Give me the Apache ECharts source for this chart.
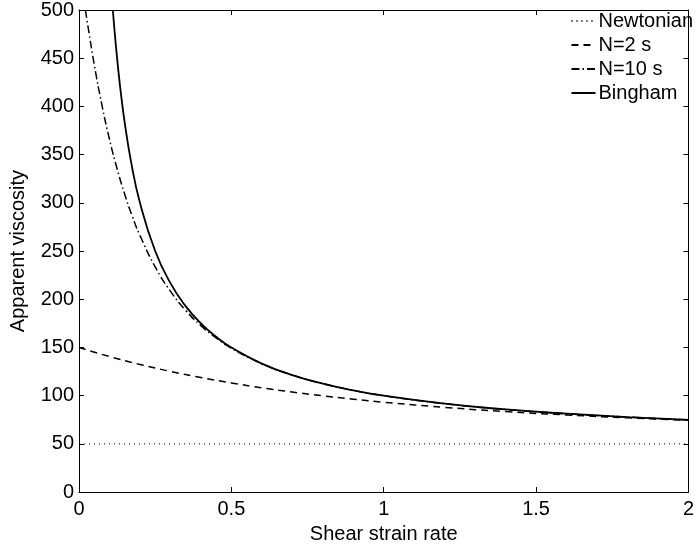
<!DOCTYPE html>
<html>
<head>
<meta charset="utf-8">
<script src="https://cdn.jsdelivr.net/npm/echarts@6/dist/echarts.min.js"></script>
<style>
html,body{margin:0;padding:0;background:#fff;}
#chart{width:697px;height:549px;}
</style>
</head>
<body>
<div id="chart"></div>
<script>
// Shear strain rate (x) and apparent viscosity (y)
const newtonianX = [0, 2];
const newtonianY = [50, 50];

const n2X = [0, 0.1, 0.2, 0.3, 0.4, 0.5, 0.6, 0.7, 0.8, 0.9, 1.0, 1.2, 1.4, 1.6, 1.8, 2.0];
const n2Y = [150, 140.6, 132.4, 125.2, 118.8, 113.2, 108.2, 103.8, 99.9, 96.4, 93.2, 87.9, 83.5, 80, 77, 74.5];

const n10X = [0.021, 0.03, 0.05, 0.075, 0.1, 0.125, 0.15, 0.175, 0.2, 0.25, 0.3, 0.35, 0.4, 0.45, 0.5, 0.6, 0.7, 0.8, 0.9, 1.0, 1.2, 1.4, 1.6, 1.8, 2.0];
const n10Y = [500, 482, 443.5, 401.8, 366, 335.4, 309, 286, 266.2, 233.6, 208.4, 188.5, 172.7, 159.9, 149.3, 133.1, 121.4, 112.5, 105.6, 100, 91.7, 85.7, 81.2, 77.8, 75];

const binghamX = [0.111, 0.12, 0.13, 0.14, 0.15, 0.17, 0.2, 0.25, 0.3, 0.35, 0.4, 0.45, 0.5, 0.6, 0.7, 0.8, 0.9, 1.0, 1.2, 1.4, 1.6, 1.8, 2.0];
const binghamY = [500, 466.7, 434.6, 407.1, 383.3, 344.1, 300, 250, 216.7, 192.9, 175, 161.1, 150, 133.3, 121.4, 112.5, 105.6, 100, 91.7, 85.7, 81.3, 77.8, 75];

const xTicks = [0, 0.5, 1, 1.5, 2];
const yTicks = [0, 50, 100, 150, 200, 250, 300, 350, 400, 450, 500];

const seriesNames = ['Newtonian', 'N=2 s', 'N=10 s', 'Bingham'];

function pairs(xs, ys) { return xs.map((x, i) => [x, ys[i]]); }

const FONT = 'Liberation Sans, Arial, Helvetica, sans-serif';
const FS = 20;

const chart = echarts.init(document.getElementById('chart'), null, {renderer: 'canvas'});

const baseAxis = {
  type: 'value',
  axisLine: {show: true, onZero: false, lineStyle: {color: '#000', width: 1}},
  axisTick: {show: true, inside: true, length: 5, lineStyle: {color: '#000', width: 1}},
  splitLine: {show: false},
  axisLabel: {color: '#000', fontFamily: FONT, fontSize: FS},
};

const option = {
  animation: false,
  backgroundColor: '#fff',
  grid: {left: 77, right: 4, top: 10, bottom: 54, containLabel: false},
  xAxis: [
    Object.assign({}, baseAxis, {
      position: 'bottom', min: xTicks[0], max: xTicks[xTicks.length - 1], interval: 0.5,
      name: 'Shear strain rate', nameLocation: 'middle', nameGap: 28,
      nameTextStyle: {color: '#000', fontFamily: FONT, fontSize: FS},
      axisLabel: Object.assign({}, baseAxis.axisLabel, {margin: 7, formatter: v => String(v)})
    }),
    Object.assign({}, baseAxis, {
      position: 'top', min: xTicks[0], max: xTicks[xTicks.length - 1], interval: 0.5,
      axisLabel: {show: false}
    })
  ],
  yAxis: [
    Object.assign({}, baseAxis, {
      position: 'left', min: yTicks[0], max: yTicks[yTicks.length - 1], interval: 50,
      name: 'Apparent viscosity', nameLocation: 'middle', nameGap: 51,
      nameTextStyle: {color: '#000', fontFamily: FONT, fontSize: FS},
      axisLabel: Object.assign({}, baseAxis.axisLabel, {margin: 5})
    }),
    Object.assign({}, baseAxis, {
      position: 'right', min: yTicks[0], max: yTicks[yTicks.length - 1], interval: 50,
      axisLabel: {show: false}
    })
  ],
  legend: {
    show: true,
    orient: 'vertical',
    right: 4,
    top: 11,
    itemWidth: 24,
    itemHeight: 14,
    itemGap: 4,
    padding: 0,
    itemStyle: {opacity: 0},
    textStyle: {color: '#000', fontFamily: FONT, fontSize: FS, padding: [0, 0, 0, -2]},
    data: seriesNames
  },
  series: [
    {
      name: seriesNames[0], type: 'line', data: pairs(newtonianX, newtonianY),
      symbol: 'none', lineStyle: {color: '#000', width: 1, type: [1, 4]}, itemStyle: {color: '#000'}
    },
    {
      name: seriesNames[1], type: 'line', data: pairs(n2X, n2Y), smooth: true,
      symbol: 'none', lineStyle: {color: '#000', width: 1.5, type: [7, 5]}, itemStyle: {color: '#000'}
    },
    {
      name: seriesNames[2], type: 'line', data: pairs(n10X, n10Y), smooth: true,
      symbol: 'none', lineStyle: {color: '#000', width: 1.5, type: [8, 3, 1.5, 3]}, itemStyle: {color: '#000'}
    },
    {
      name: seriesNames[3], type: 'line', data: pairs(binghamX, binghamY), smooth: true,
      symbol: 'none', lineStyle: {color: '#000', width: 1.8, type: 'solid'}, itemStyle: {color: '#000'}
    }
  ]
};
chart.setOption(option);
</script>
</body>
</html>
